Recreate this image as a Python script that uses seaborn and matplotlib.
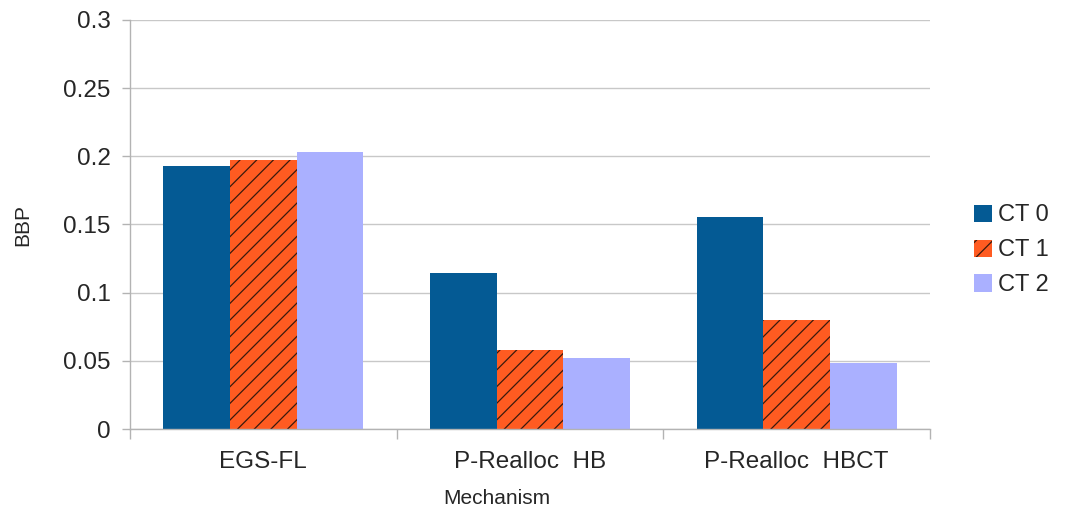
import pandas as pd
import numpy as np
import seaborn as sns
import matplotlib.pyplot as plt
from matplotlib.patches import Patch

mechanisms = ['EGS-FL', 'P-Realloc  HB', 'P-Realloc  HBCT']
series = ['CT 0', 'CT 1', 'CT 2']
ct0 = [0.193, 0.1145, 0.1555]
ct1 = [0.197, 0.058, 0.080]
ct2 = [0.203, 0.052, 0.0487]
colors = ['#045a94', '#ff5b21', '#aab0ff']

df = pd.DataFrame({
    'Mechanism': mechanisms * 3,
    'CT': [s for s in series for _ in mechanisms],
    'BBP': ct0 + ct1 + ct2,
})

sns.set_style('white')
plt.rcParams['font.family'] = ['Liberation Sans', 'DejaVu Sans']
plt.rcParams['hatch.linewidth'] = 0.9

fig = plt.figure(figsize=(10.65, 5.11), dpi=100)
ax = fig.add_axes([130/1065, 82/511, 800/1065, 409/511])

sns.barplot(data=df, x='Mechanism', y='BBP', hue='CT', palette=colors,
            saturation=1, width=0.75, linewidth=0, legend=False, ax=ax)

# hatch the CT 1 bars
for p in ax.containers[1]:
    p.set_hatch('//')
    p.set_edgecolor('#3b1a0d')
    p.set_linewidth(0)

ax.set_xlim(-0.5, 2.5)
ax.set_ylim(0, 0.3)
ax.set_yticks(np.arange(0, 0.301, 0.05))
ax.set_yticklabels(['0', '0.05', '0.1', '0.15', '0.2', '0.25', '0.3'])
ax.yaxis.grid(True, color='#c8c8c8', linewidth=1)
ax.set_axisbelow(True)

for s in ['top', 'right']:
    ax.spines[s].set_visible(False)
for s in ['left', 'bottom']:
    ax.spines[s].set_color('#b3b3b3')
    ax.spines[s].set_linewidth(1)

ax.tick_params(axis='y', which='major', length=5.8, color='#b3b3b3', width=1,
               labelsize=17.5, pad=8, direction='out', left=True)
ax.tick_params(axis='x', which='major', length=0, labelsize=17.5, pad=16)
ax.set_xticks([-0.5, 0.5, 1.5, 2.5], minor=True)
ax.tick_params(axis='x', which='minor', length=7, color='#b3b3b3', width=1,
               direction='out', bottom=True)

ax.set_ylabel('BBP', fontsize=15)
ax.set_xlabel('Mechanism', fontsize=15)
ax.yaxis.set_label_coords(-0.1225, 0.5)
ax.xaxis.set_label_coords(0.459, -0.147)

handles = [Patch(facecolor=colors[0], linewidth=0),
           Patch(facecolor=colors[1], edgecolor='#3b1a0d', linewidth=0, hatch='//'),
           Patch(facecolor=colors[2], linewidth=0)]
fig.legend(handles, series, loc='center left', bbox_to_anchor=(0.915, 0.51),
           frameon=False, fontsize=17, handlelength=0.75, handleheight=0.75,
           handletextpad=0.25, labelspacing=0.55, borderpad=0, borderaxespad=0)

fig.savefig('out.png', dpi=100)
